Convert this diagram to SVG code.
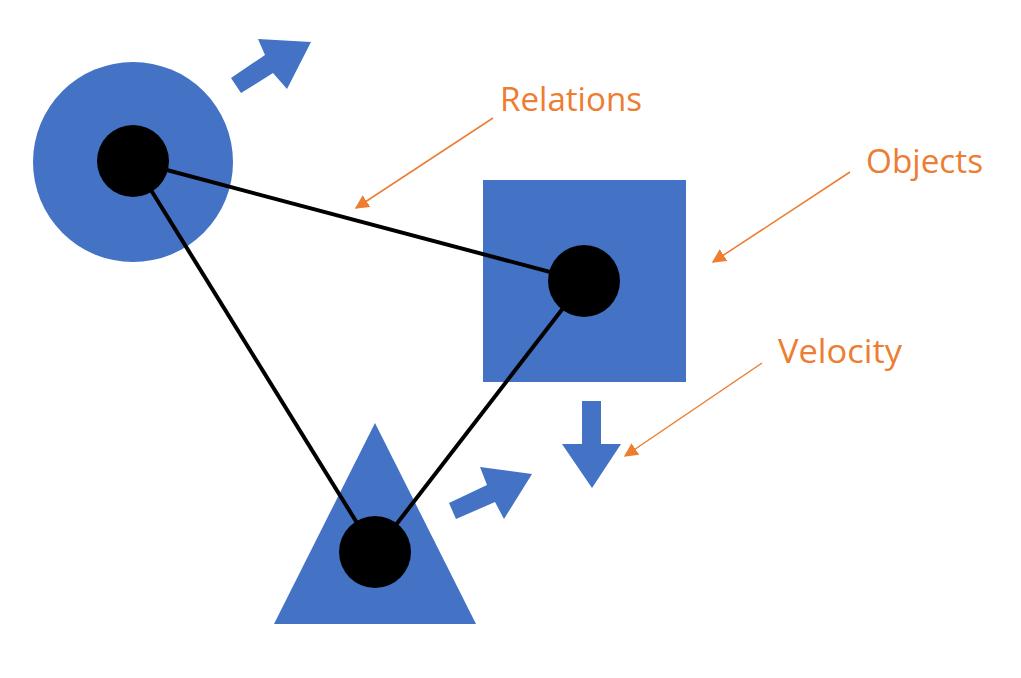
<svg xmlns="http://www.w3.org/2000/svg" width="1021" height="678" viewBox="0 0 1021 678">
<defs>
<style>
.shape{fill:#4472C4;}
.dot{fill:#000;}
.rel{stroke:#000;stroke-width:4;fill:none;}
.callout{stroke:#ED7D31;stroke-width:1.5;fill:none;}
.lbl{fill:#ED7D31;font-family:"Open Sans","Noto Sans","Liberation Sans",sans-serif;font-size:32px;}
</style>
<marker id="oa" viewBox="0 0 10 10" refX="9" refY="5" markerWidth="10" markerHeight="10" markerUnits="userSpaceOnUse" orient="auto">
<path d="M0,0 L10,5 L0,10 Z" fill="#ED7D31"/>
</marker>
<marker id="oa2" viewBox="0 0 10 10" refX="9" refY="5" markerWidth="14" markerHeight="14" markerUnits="userSpaceOnUse" orient="auto">
<path d="M0,0 L10,5 L0,10 Z" fill="#ED7D31"/>
</marker>
</defs>
<rect width="1021" height="678" fill="#fff"/>
<g id="circle-object">
<circle class="shape" cx="133" cy="162" r="100"/>
</g>
<g id="square-object">
<rect class="shape" x="483" y="180" width="203" height="202"/>
</g>
<g id="triangle-object">
<polygon class="shape" points="375,423 476,624 274,624"/>
</g>
<g id="velocity-arrows">
<polygon class="shape" points="231,78 265,55 258,39 311,42 287,89 273,73 241,93"/>
<polygon class="shape" points="449,503 487,485 480,467 532,474 504,519 495,502 456,519"/>
<polygon class="shape" points="582,401 601,401 601,444 621,444 592,488 562,444 582,444"/>
</g>
<g id="connectors">
<line class="rel" x1="133" y1="161" x2="584" y2="281"/>
<line class="rel" x1="133" y1="161" x2="375" y2="552"/>
<line class="rel" x1="584" y1="281" x2="375" y2="552"/>
<line class="callout" x1="493" y1="118" x2="356" y2="208" marker-end="url(#oa2)"/>
<line class="callout" x1="850" y1="172" x2="713" y2="262" marker-end="url(#oa2)"/>
<line class="callout" x1="762" y1="363" x2="625" y2="456" marker-end="url(#oa2)"/>
</g>
<g id="dots">
<circle class="dot" cx="133" cy="161" r="36"/>
<circle class="dot" cx="584" cy="281" r="36"/>
<circle class="dot" cx="375" cy="552" r="36"/>
</g>
<g id="labels">
<text class="lbl" x="500" y="111" textLength="142" lengthAdjust="spacingAndGlyphs">Relations</text>
<text class="lbl" x="866" y="173" textLength="117" lengthAdjust="spacingAndGlyphs">Objects</text>
<text class="lbl" x="778" y="363" textLength="124" lengthAdjust="spacingAndGlyphs">Velocity</text>
</g>
</svg>
